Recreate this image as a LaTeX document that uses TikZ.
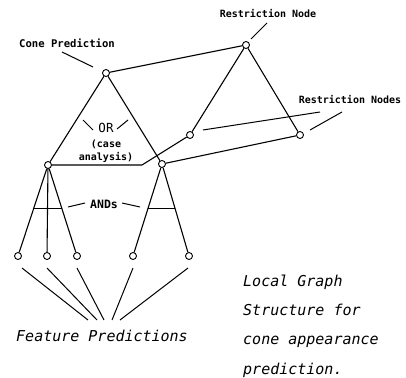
\documentclass[tikz,border=0pt]{standalone}
\usepackage{fontspec}
\newfontfamily\plotfont{DejaVu Sans Mono}
\begin{document}
\begin{tikzpicture}[x=1pt,y=-1pt,
  pnode/.style={circle,draw,fill=white,inner sep=0pt,minimum size=7pt,line width=0.9pt},
  link/.style={line width=1.1pt},
  pointer/.style={line width=1pt},
  lbl/.style={font=\plotfont\bfseries\fontsize{10}{12}\selectfont,inner sep=0pt},
  caption/.style={font=\plotfont\itshape\fontsize{15}{17}\selectfont,inner sep=0pt,anchor=base west}]
\useasboundingbox (0,0) rectangle (406,377);

% graph nodes
\node[pnode] (cone) at (106,73) {};
\node[pnode] (rtop) at (246,45) {};
\node[pnode] (orL) at (48,165) {};
\node[pnode] (orR) at (162,164) {};
\node[pnode] (rL) at (190,135) {};
\node[pnode] (rR) at (300,135) {};
\node[pnode] (f1) at (18,256) {};
\node[pnode] (f2) at (47,256) {};
\node[pnode] (f3) at (77,256) {};
\node[pnode] (f4) at (133,256) {};
\node[pnode] (f5) at (189,256) {};
\coordinate (bend) at (142,165);

% links
\draw[link] (cone) -- (rtop);
\draw[link] (cone) -- (orL);
\draw[link] (cone) -- (orR);
\draw[link] (rtop) -- (rL);
\draw[link] (rtop) -- (rR);
\draw[link] (orL) -- (bend) -- (rL);
\draw[link] (orR) -- (rR);
\foreach \f in {f1,f2,f3} \draw[link] (orL) -- (\f);
\foreach \f in {f4,f5} \draw[link] (orR) -- (\f);

% AND bars
\draw[pointer] (34,208) -- (62,208);
\draw[pointer] (148,208) -- (175,208);

% labels
\node[lbl,font=\plotfont\bfseries\fontsize{10.6}{12}\selectfont] (tcone) at (67,43) {Cone Prediction};
\node[lbl] (trnode) at (268,14) {Restriction Node};
\node[lbl] (trnodes) at (350,100) {Restriction Nodes};
\node[font=\plotfont\fontsize{12.5}{14}\selectfont,inner sep=0pt] (tor) at (106,128) {OR};
\node[lbl] (tcase) at (106,144) {(case};
\node[lbl] (tanal) at (106,157) {analysis)};
\node[font=\plotfont\bfseries\fontsize{11.5}{14}\selectfont,inner sep=0pt] (tand) at (104,204) {ANDs};

% label pointers
\draw[pointer] (62,52) -- (93,67);
\draw[pointer] (267,23) -- (251,39);
\draw[pointer] (203,130) -- (320,112);
\draw[pointer] (310,130) -- (342,112);
\draw[pointer] (83,120) -- (93,130);
\draw[pointer] (117,129) -- (128,120);
\draw[pointer] (68,207) -- (85,203);
\draw[pointer] (122,203) -- (140,207);

% feature prediction pointers
\draw[pointer] (22,268) -- (88,320);
\draw[pointer] (47,268) -- (97,320);
\draw[pointer] (77,268) -- (104,320);
\draw[pointer] (133,268) -- (112,320);
\draw[pointer] (188,268) -- (120,320);

\node[caption,anchor=base] (tfeat) at (102,341) {Feature Predictions};

% caption block
\node[caption] (c1) at (243,286) {Local Graph};
\node[caption] (c2) at (243,315) {Structure for};
\node[caption] (c3) at (243,344) {cone appearance};
\node[caption] (c4) at (243,374) {prediction.};
\end{tikzpicture}
\end{document}
